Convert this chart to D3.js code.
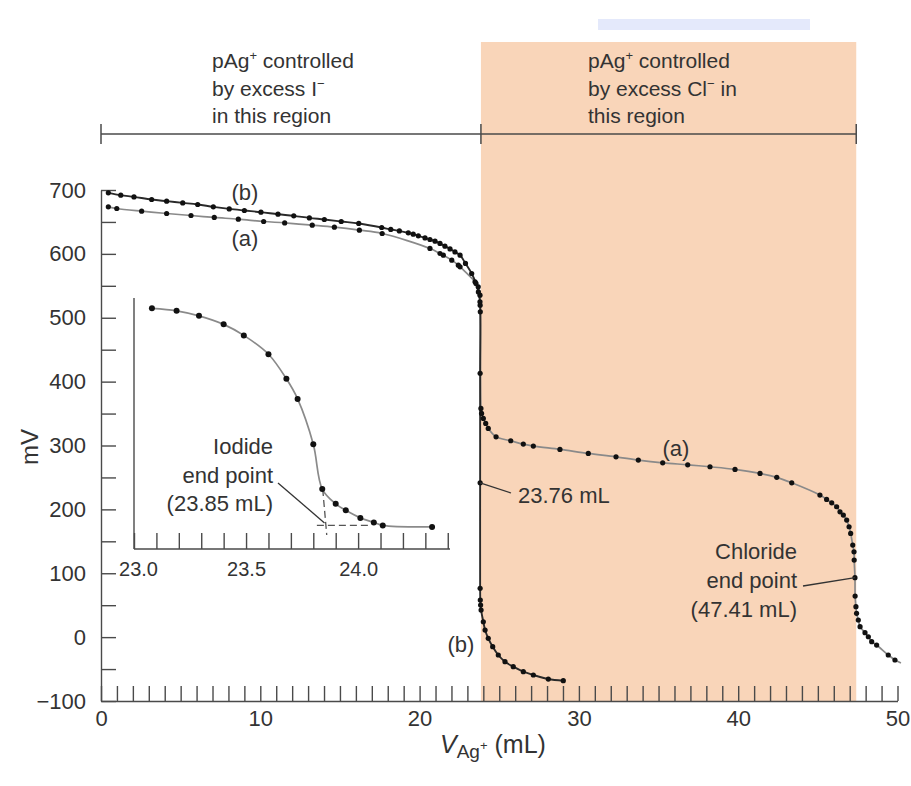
<!DOCTYPE html>
<html>
<head>
<meta charset="utf-8">
<script src="https://cdn.jsdelivr.net/npm/d3@7/dist/d3.min.js"></script>
<style>
body { margin: 0; background: #fff; }
svg text { font-family: "Liberation Sans", Arial, Helvetica, sans-serif; fill: #333; }
</style>
</head>
<body>
<svg width="911" height="786"></svg>
<script>
// curve (a): I- + Cl- mixture
const curveA_mL = [0.46, 0.99, 2.55, 4.12, 5.65, 7.11, 8.62, 10.21, 11.53, 13.26, 14.65, 16.22, 17.65,
  20.65, 21.28, 21.49, 22.02, 22.43, 22.54, 23.48, 23.68, 23.79, 23.80, 23.81,
  23.85, 23.89, 24.00, 24.15, 24.31, 24.80, 25.72, 26.51, 27.14, 28.81, 30.59, 32.33, 33.73, 35.26,
  36.83, 38.23, 39.80, 41.37, 42.42, 43.36, 45.13, 45.55, 45.87, 46.18, 46.39, 46.60, 46.81, 46.96,
  47.06, 47.19, 47.27, 47.28, 47.33, 47.34, 47.39, 47.43, 47.54, 47.65, 47.96, 48.17, 48.38, 48.69, 49.42, 49.84];
const curveA_mV = [673.6, 671.0, 666.8, 663.2, 660.1, 657.0, 654.3, 650.7, 648.5, 644.9, 641.8, 637.1, 631.9,
  608.5, 600.6, 598.0, 590.2, 582.3, 579.7, 556.2, 548.4, 535.4, 519.7, 509.2,
  358.1, 350.2, 342.4, 334.6, 326.8, 313.6, 307.4, 302.2, 299.1, 293.9, 287.6, 282.3, 277.2, 272.9,
  269.8, 266.7, 262.6, 256.3, 250.1, 241.6, 222.4, 215.6, 210.3, 204.1, 196.2, 191.1, 183.3, 172.8,
  162.4, 144.1, 133.6, 120.7, 93.0, 64.3, 47.6, 37.2, 26.8, 16.3, 6.9, 0.6, -7.2, -12.4, -28.0, -35.8];

// curve (b): I- alone
const curveB_mL = [0.46, 1.24, 2.07, 3.18, 4.12, 5.13, 6.07, 7.05, 8.05, 9.00, 10.04, 11.11, 12.10, 13.08,
  14.02, 15.08, 16.18, 17.62, 18.19, 18.73, 19.29, 19.60, 19.92, 20.34, 20.65, 20.97, 21.28, 21.59,
  21.91, 22.22, 22.54, 22.88, 23.27, 23.54, 23.69, 23.79, 23.80, 23.80, 23.80, 23.81, 23.83, 23.86,
  24.00, 24.11, 24.31, 24.59, 24.94, 25.36, 25.88, 26.51, 27.14, 28.08, 29.02];
const curveB_mV = [695.5, 691.9, 689.2, 685.1, 682.5, 679.8, 677.3, 673.6, 670.4, 667.9, 665.3, 662.1, 659.5, 656.3,
  653.8, 650.7, 647.6, 641.3, 638.2, 636.0, 632.9, 630.8, 628.2, 625.0, 622.5, 619.9, 616.3, 612.1,
  607.8, 603.1, 598.0, 585.0, 569.3, 553.7, 540.5, 524.9, 413.0, 241.6, 76.4, 58.1, 50.2, 42.4,
  24.1, 11.1, -1.9, -15.0, -28.0, -38.5, -46.3, -54.1, -59.3, -65.6, -68.2];

// inset: iodide end point region (relative potential scale)
const inset_mL = [23.08, 23.19, 23.29, 23.40, 23.49, 23.60, 23.68, 23.73, 23.80, 23.84, 23.90, 23.945, 24.01, 24.07, 24.11, 24.33];
const inset_rel = [95.9, 94.9, 92.9, 89.5, 85.1, 77.6, 67.8, 59.8, 41.7, 23.9, 18.0, 15.4, 12.4, 10.6, 9.4, 8.8];

const regionEdges = [0, 23.85, 47.41];
const xTickLabels = [0, 10, 20, 30, 40, 50];
const yTickLabels = [-100, 0, 100, 200, 300, 400, 500, 600, 700];
const insetTickLabels = [23.0, 23.5, 24.0];

const svg = d3.select('svg');
const ink = '#333';
const axisInk = '#4a4a4a';

const xScale = d3.scaleLinear().domain([0, 50]).range([101, 897.5]);
const yScale = d3.scaleLinear().domain([-100, 700]).range([701, 190]);
const ix = d3.scaleLinear().domain([23.0, 24.41]).range([134, 450]);
const iy = d3.scaleLinear().domain([0, 100]).range([549, 298]);

// scan artefact band at the top
svg.append('rect').attr('x', 598).attr('y', 19).attr('width', 212).attr('height', 11).attr('fill', '#e4e9fb');

// Cl- region shading
svg.append('rect')
  .attr('x', xScale(regionEdges[1]))
  .attr('y', 42)
  .attr('width', xScale(regionEdges[2]) - xScale(regionEdges[1]))
  .attr('height', yScale(-100) - 42)
  .attr('fill', '#f9d5b9');

// bracket over the regions
const bracketY = 134;
svg.append('line').attr('x1', xScale(regionEdges[0])).attr('x2', xScale(regionEdges[2]))
  .attr('y1', bracketY).attr('y2', bracketY).attr('stroke', axisInk).attr('stroke-width', 1.5);
svg.selectAll('.brk').data(regionEdges).enter().append('line')
  .attr('class', 'brk')
  .attr('x1', d => xScale(d)).attr('x2', d => xScale(d))
  .attr('y1', bracketY - 10).attr('y2', bracketY + 10)
  .attr('stroke', axisInk).attr('stroke-width', 1.5);

// text helper with superscripts
let addLine = (x, y, parts, size) => {
  const t = svg.append('text').attr('x', x).attr('y', y).attr('font-size', size);
  let shifted = false;
  parts.forEach(p => {
    const s = t.append('tspan').text(p[0]);
    if (p[1]) {
      s.attr('font-size', size * 0.62).attr('dy', -8);
      shifted = true;
    } else if (shifted) {
      s.attr('dy', 8);
      shifted = false;
    }
  });
  return t;
};

addLine(212, 68, [['pAg'], ['+', true], [' controlled']], 21);
addLine(212, 96, [['by excess I'], ['\u2212', true]], 21);
addLine(212, 123, [['in this region']], 21);
addLine(588, 68, [['pAg'], ['+', true], [' controlled']], 21);
addLine(588, 96, [['by excess Cl'], ['\u2212', true], [' in']], 21);
addLine(588, 123, [['this region']], 21);

// axes
const xAxis = d3.axisBottom(xScale)
  .tickValues(d3.range(0, 51))
  .tickSize(-15).tickSizeOuter(0).tickPadding(9)
  .tickFormat(d => xTickLabels.includes(d) ? d : '');
const gx = svg.append('g').attr('transform', 'translate(0,' + yScale(-100) + ')').call(xAxis);

const yAxis = d3.axisLeft(yScale)
  .tickValues(d3.range(-100, 701, 50))
  .tickSize(-15).tickSizeOuter(0).tickPadding(15)
  .tickFormat(d => yTickLabels.includes(d) ? d3.format('d')(d) : '');
const gy = svg.append('g').attr('transform', 'translate(' + xScale(0) + ',0)').call(yAxis);

[gx, gy].forEach(g => {
  g.attr('font-size', 22).attr('font-family', '"Liberation Sans", Arial, sans-serif');
  g.selectAll('path, line').attr('stroke', axisInk).attr('stroke-width', 1.4);
  g.selectAll('text').attr('fill', ink);
});

// axis titles
svg.append('text').attr('transform', 'translate(38,447) rotate(-90)')
  .attr('text-anchor', 'middle').attr('font-size', 24).text('mV');

const xt = svg.append('text').attr('x', 440).attr('y', 753).attr('font-size', 25);
xt.append('tspan').attr('font-style', 'italic').text('V');
xt.append('tspan').attr('font-size', 19).attr('dy', 5).text('Ag');
xt.append('tspan').attr('font-size', 13).attr('dy', -8).text('+');
xt.append('tspan').attr('dy', 3).text(' (mL)');

// curves
const dataA = curveA_mL.map((v, i) => [v, curveA_mV[i]]);
const dataB = curveB_mL.map((v, i) => [v, curveB_mV[i]]);

const line = d3.line()
  .x(d => xScale(d[0]))
  .y(d => yScale(d[1]))
  .curve(d3.curveCatmullRom.alpha(0.5));

svg.append('path').datum(dataA).attr('d', line)
  .attr('fill', 'none').attr('stroke', '#8a8a8a').attr('stroke-width', 1.7);
// short tail past the last reading
svg.append('line')
  .attr('x1', xScale(49.84)).attr('y1', yScale(-35.8))
  .attr('x2', xScale(49.84) + 6).attr('y2', yScale(-35.8) + 3)
  .attr('stroke', '#8a8a8a').attr('stroke-width', 1.7);

svg.append('path').datum(dataB).attr('d', line)
  .attr('fill', 'none').attr('stroke', '#2a2a2a').attr('stroke-width', 1.9);

svg.selectAll('.ptA').data(dataA).enter().append('circle')
  .attr('class', 'ptA')
  .attr('cx', d => xScale(d[0])).attr('cy', d => yScale(d[1]))
  .attr('r', 2.6).attr('fill', '#111');
svg.selectAll('.ptB').data(dataB).enter().append('circle')
  .attr('class', 'ptB')
  .attr('cx', d => xScale(d[0])).attr('cy', d => yScale(d[1]))
  .attr('r', 2.6).attr('fill', '#111');

// curve labels
let label = (x, y, txt, anchor, size) => svg.append('text')
  .attr('x', x).attr('y', y).attr('font-size', size || 22)
  .attr('text-anchor', anchor || 'start').text(txt);

label(245, 200, '(b)', 'middle');
label(245, 246, '(a)', 'middle');
label(676, 456, '(a)', 'middle');
label(461, 652, '(b)', 'middle');

// 23.76 mL pointer
svg.append('line').attr('x1', xScale(23.80)).attr('y1', yScale(241.6))
  .attr('x2', 511).attr('y2', 493).attr('stroke', ink).attr('stroke-width', 1.3);
label(518, 503, '23.76 mL');

// chloride end point
svg.append('line').attr('x1', 803).attr('y1', 586)
  .attr('x2', xScale(47.34)).attr('y2', yScale(93)).attr('stroke', ink).attr('stroke-width', 1.3);
label(797, 559, 'Chloride', 'end');
label(797, 588, 'end point', 'end');
label(797, 617, '(47.41 mL)', 'end');

// inset
const insetData = inset_mL.map((v, i) => [v, inset_rel[i]]);

svg.append('line').attr('x1', ix(23.0)).attr('x2', ix(23.0))
  .attr('y1', iy(100)).attr('y2', iy(0))
  .attr('stroke', axisInk).attr('stroke-width', 1.4);

const insetAxis = d3.axisBottom(ix)
  .tickValues(d3.range(0, 15).map(i => 23 + i / 10))
  .tickSize(-16).tickSizeOuter(0).tickPadding(13)
  .tickFormat(d => insetTickLabels.some(l => Math.abs(l - d) < 1e-6) ? d3.format('.1f')(d) : '');
const gi = svg.append('g').attr('transform', 'translate(0,' + iy(0) + ')').call(insetAxis);
gi.attr('font-size', 20).attr('font-family', '"Liberation Sans", Arial, sans-serif');
gi.select('.domain').attr('d', 'M' + ix(23.0) + ',0H450');
gi.selectAll('path, line').attr('stroke', axisInk).attr('stroke-width', 1.4);
gi.selectAll('text').attr('fill', ink);
gi.selectAll('.tick text').filter(d => Math.abs(d - 23.0) < 1e-6).attr('dx', 4);

const insetLine = d3.line()
  .x(d => ix(d[0]))
  .y(d => iy(d[1]))
  .curve(d3.curveCatmullRom.alpha(0.5));

svg.append('path').datum(insetData).attr('d', insetLine)
  .attr('fill', 'none').attr('stroke', '#8a8a8a').attr('stroke-width', 1.7);

// end point construction (dashed)
svg.append('line').attr('x1', ix(23.816)).attr('x2', ix(24.054))
  .attr('y1', iy(9.4)).attr('y2', iy(9.4))
  .attr('stroke', '#555').attr('stroke-width', 1.3).attr('stroke-dasharray', '7,4');
svg.append('line').attr('x1', ix(23.842)).attr('x2', ix(23.860))
  .attr('y1', iy(23.9)).attr('y2', iy(5.6))
  .attr('stroke', '#555').attr('stroke-width', 1.3).attr('stroke-dasharray', '7,4');

svg.selectAll('.ptI').data(insetData).enter().append('circle')
  .attr('class', 'ptI')
  .attr('cx', d => ix(d[0])).attr('cy', d => iy(d[1]))
  .attr('r', 3).attr('fill', '#111');

svg.append('line').attr('x1', 278).attr('y1', 483)
  .attr('x2', ix(23.85)).attr('y2', iy(10.4)).attr('stroke', ink).attr('stroke-width', 1.3);
label(273, 454, 'Iodide', 'end');
label(273, 483, 'end point', 'end');
label(273, 511, '(23.85 mL)', 'end');
</script>
</body>
</html>
